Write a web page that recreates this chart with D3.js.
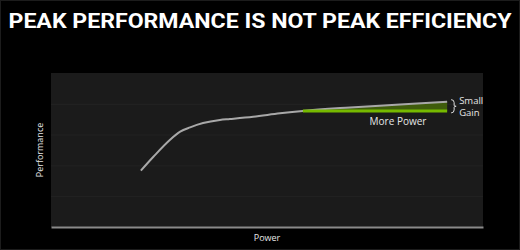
<!DOCTYPE html>
<html><head><meta charset="utf-8">
<script src="https://cdn.jsdelivr.net/npm/d3@7"></script>
<style>html,body{margin:0;padding:0;background:#000;}svg{display:block;}</style>
</head><body>
<script>
const title = "PEAK PERFORMANCE IS NOT PEAK EFFICIENCY";
const xLabel = "Power";
const yLabel = "Performance";
const power = [20.8, 23.7, 27.5, 29.9, 32.2, 35.2, 39.1, 41.4, 46.8, 53.0, 58.3, 69.2, 80.8, 91.7];
const performance = [36.6, 45.6, 56.5, 61.9, 64.7, 67.5, 69.5, 70.1, 71.6, 73.8, 75.4, 77.6, 79.5, 81.4];
const peakEffPower = 58.3;
const peakEffPerf = 75.4;
const yTicks = [0, 20, 40, 60, 80, 100];
const annotations = ["Small", "Gain", "More Power"];

const W = 520, H = 250;
const m = {left: 51, right: 37, top: 73, bottom: 23};
const svg = d3.select("body").append("svg").attr("width", W).attr("height", H);
svg.append("rect").attr("width", W).attr("height", H).attr("fill", "#000");
svg.append("rect").attr("x",0.5).attr("y",0.5).attr("width",W-1).attr("height",H-1).attr("fill","none").attr("stroke","#1c1c1c");

const x = d3.scaleLinear().domain([0,100]).range([m.left, W - m.right]);
const y = d3.scaleLinear().domain([0,100]).range([H - m.bottom, m.top]);

svg.append("text").attr("x", W/2).attr("y", 28).attr("text-anchor","middle")
  .attr("font-family","Roboto, 'DejaVu Sans', sans-serif").attr("font-weight","bold")
  .attr("font-size", 21).attr("fill","#fff")
  .attr("textLength", 503).attr("lengthAdjust","spacingAndGlyphs").text(title);

svg.append("rect").attr("x", x(0)).attr("y", y(100)).attr("width", x(100)-x(0)).attr("height", y(0)-y(100)).attr("fill","#1b1b1b");

const grid = svg.append("g").attr("transform",`translate(${x(0)},0)`)
  .call(d3.axisLeft(y).tickValues(yTicks.slice(1, -1)).tickSize(-(x(100)-x(0))).tickFormat(""));
grid.select(".domain").remove();
grid.selectAll("line").attr("stroke","#232323");

const xa = svg.append("g").attr("transform",`translate(0,${y(0)})`)
  .call(d3.axisBottom(x).tickValues([]).tickSizeOuter(0));
xa.select(".domain").attr("stroke","#8a8a8a").attr("stroke-width",2);

const pts = power.map((p,i)=>({p, v: performance[i]}));
const tail = pts.filter(d => d.p >= peakEffPower);
const lastP = power[power.length-1];

const area = d3.area().x(d=>x(d.p)).y0(y(peakEffPerf)).y1(d=>y(d.v)).curve(d3.curveMonotoneX);
svg.append("path").datum(tail).attr("d", area).attr("fill","#3f5c0c");

svg.append("path").datum(pts)
  .attr("d", d3.line().x(d=>x(d.p)).y(d=>y(d.v)).curve(d3.curveMonotoneX))
  .attr("fill","none").attr("stroke","#a8a8a8").attr("stroke-width",2);

svg.append("line").attr("x1", x(peakEffPower)).attr("x2", x(lastP))
  .attr("y1", y(peakEffPerf)).attr("y2", y(peakEffPerf))
  .attr("stroke","#76b900").attr("stroke-width",3);

// bracket
const bx = x(lastP) + 4, by0 = y(performance[performance.length-1]) - 2, by1 = y(peakEffPerf) + 2, bm = (by0+by1)/2;
svg.append("path").attr("d",
  `M${bx},${by0} Q${bx+3},${by0} ${bx+3},${by0+3} L${bx+3},${bm-1} Q${bx+3},${bm} ${bx+5},${bm} Q${bx+3},${bm} ${bx+3},${bm+1} L${bx+3},${by1-3} Q${bx+3},${by1} ${bx},${by1}`)
  .attr("fill","none").attr("stroke","#ddd").attr("stroke-width",1);

const f = "'Open Sans', 'DejaVu Sans', sans-serif";
svg.append("text").attr("x", bx+8).attr("y", bm-2).attr("font-family", f).attr("font-size",9.5).attr("fill","#e6e6e6").text(annotations[0]);
svg.append("text").attr("x", bx+8).attr("y", bm+9.5).attr("font-family", f).attr("font-size",9.5).attr("fill","#e6e6e6").text(annotations[1]);
svg.append("text").attr("x", (x(peakEffPower)+x(lastP))/2 + 23).attr("y", y(peakEffPerf)+14).attr("text-anchor","middle")
  .attr("font-family", f).attr("font-size",10).attr("fill","#e6e6e6").text(annotations[2]);

svg.append("text").attr("x", x(50)).attr("y", 241).attr("text-anchor","middle")
  .attr("font-family", f).attr("font-size",9).attr("fill","#e6e6e6").text(xLabel);
svg.append("text").attr("transform",`translate(43,${(y(0)+y(100))/2}) rotate(-90)`).attr("text-anchor","middle")
  .attr("font-family", f).attr("font-size",9).attr("fill","#e6e6e6").text(yLabel);
</script>
</body></html>
